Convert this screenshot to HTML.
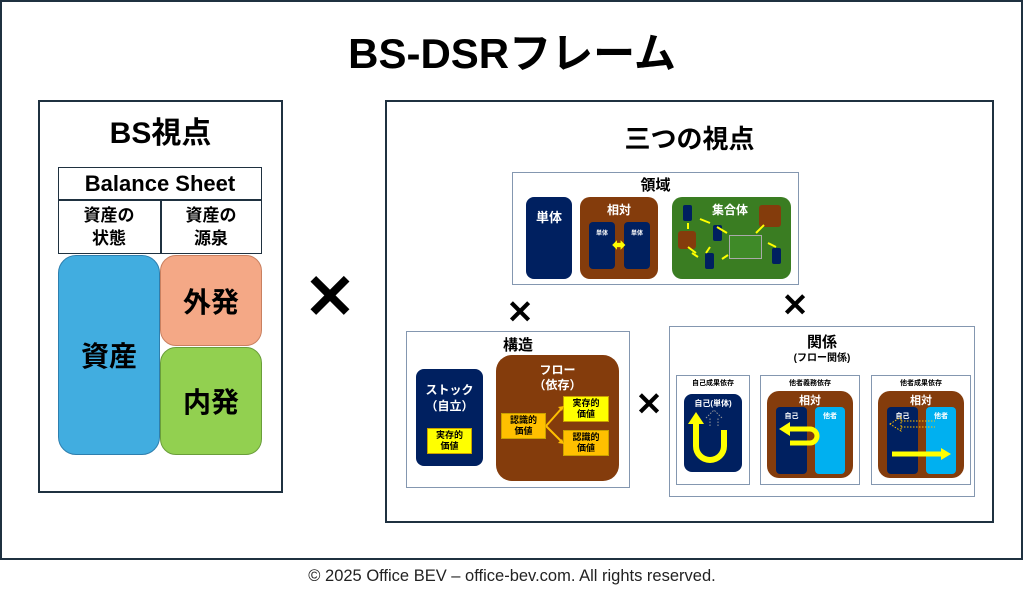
<!DOCTYPE html>
<html><head><meta charset="utf-8"><style>
*{margin:0;padding:0;box-sizing:border-box}
body{width:1024px;height:597px;background:#fff;position:relative;overflow:hidden;font-family:"Liberation Sans","Noto Sans CJK JP",sans-serif;font-weight:bold;color:#000}
div{position:absolute}
.c{display:flex;align-items:center;justify-content:center;text-align:center}
.box{border:1.5px solid #8497b0;background:#fff}
.navy{background:#002060;color:#fff;border-radius:8px}
.brown{background:#843c0c;color:#fff;border-radius:10px}
.y{background:#ffff00;color:#000;border:1px solid #c9a000;font-size:9px;line-height:11px}
.o{background:#ffc000;color:#000;border:1px solid #c9a000;font-size:9px;line-height:11px}
.x{font-size:34px;font-weight:bold;line-height:1}
</style></head><body>
<div style="left:0;top:0;width:1023px;height:560px;border:2px solid #1f3140"></div>
<div class="c" style="left:0;top:24px;width:1024px;height:52px;font-size:42px">BS-DSRフレーム</div>

<div style="left:38px;top:100px;width:245px;height:393px;border:2px solid #1f3140"></div>
<div class="c" style="left:38px;top:110px;width:245px;height:40px;font-size:30px">BS視点</div>
<div style="left:58px;top:167px;width:204px;height:87px;border:1.5px solid #1f3140"></div>
<div style="left:58px;top:199px;width:204px;height:1.5px;background:#1f3140"></div>
<div style="left:160px;top:199px;width:1.5px;height:55px;background:#1f3140"></div>
<div class="c" style="left:58px;top:168px;width:204px;height:31px;font-size:22px">Balance Sheet</div>
<div class="c" style="left:58px;top:201px;width:102px;height:52px;font-size:17px;line-height:23px">資産の<br>状態</div>
<div class="c" style="left:160px;top:201px;width:102px;height:52px;font-size:17px;line-height:23px">資産の<br>源泉</div>
<div class="c" style="left:58px;top:255px;width:102px;height:200px;background:#41ade0;border-radius:18px;border:1px solid #2e7fae;font-size:28px">資産</div>
<div class="c" style="left:160px;top:255px;width:102px;height:91px;background:#f4a886;border-radius:16px;border:1px solid #c98060;font-size:28px">外発</div>
<div class="c" style="left:160px;top:347px;width:102px;height:108px;background:#92d050;border-radius:16px;border:1px solid #6a9e3a;font-size:28px">内発</div>

<div class="c x" style="left:300px;top:268px;width:60px;height:60px;font-size:62px">✕</div>

<div style="left:385px;top:100px;width:609px;height:423px;border:2px solid #1f3140"></div>
<div class="c" style="left:385px;top:120px;width:609px;height:34px;font-size:26px">三つの視点</div>

<div class="box" style="left:512px;top:172px;width:287px;height:113px"></div>
<div class="c" style="left:512px;top:174px;width:287px;height:20px;font-size:15px">領域</div>
<div class="navy c" style="left:526px;top:197px;width:46px;height:82px;align-items:flex-start;padding-top:10px;font-size:13px">単体</div>
<div class="brown" style="left:580px;top:197px;width:78px;height:82px"></div>
<div class="c" style="left:580px;top:201px;width:78px;height:16px;color:#fff;font-size:12px">相対</div>
<div class="navy c" style="left:589px;top:222px;width:26px;height:47px;border-radius:4px;font-size:6px;align-items:flex-start;padding-top:6px">単体</div>
<div class="navy c" style="left:624px;top:222px;width:26px;height:47px;border-radius:4px;font-size:6px;align-items:flex-start;padding-top:6px">単体</div>
<div class="c" style="left:608px;top:238px;width:22px;height:14px;color:#ffff00;font-size:16px">⬌</div>
<div style="left:672px;top:197px;width:119px;height:82px;background:#3a7d22;border-radius:10px"></div>
<div class="c" style="left:700px;top:201px;width:60px;height:16px;color:#fff;font-size:12px">集合体</div>
<div class="navy" style="left:683px;top:205px;width:9px;height:16px;border-radius:2px"></div>
<div class="brown" style="left:678px;top:231px;width:18px;height:18px;border-radius:3px"></div>
<div class="brown" style="left:759px;top:205px;width:22px;height:22px;border-radius:3px"></div>
<div class="navy" style="left:713px;top:225px;width:9px;height:16px;border-radius:2px"></div>
<div class="navy" style="left:705px;top:253px;width:9px;height:16px;border-radius:2px"></div>
<div class="navy" style="left:772px;top:248px;width:9px;height:16px;border-radius:2px"></div>
<div style="left:729px;top:235px;width:33px;height:24px;border:1px solid #aaa;background:#3f8a28"></div>
<svg style="position:absolute;left:672px;top:197px" width="119" height="82"><g stroke="#ffff00" stroke-width="2"><path d="M16 26 V32 M28 22 L38 26 M45 30 L55 36 M38 50 L34 56 M26 60 L20 56 M50 62 L56 58 M92 28 L84 36 M120 32 V40 M96 46 L104 50 M16 50 L24 56"/></g></svg>
<div class="box" style="left:406px;top:331px;width:224px;height:157px"></div>
<div class="c" style="left:406px;top:334px;width:224px;height:20px;font-size:15px">構造</div>
<div class="navy" style="left:416px;top:369px;width:67px;height:97px"></div>
<div class="c" style="left:416px;top:380px;width:67px;height:36px;color:#fff;font-size:12px;line-height:16px">ストック<br>（自立）</div>
<div class="y c" style="left:427px;top:428px;width:45px;height:26px">実存的<br>価値</div>
<div class="brown" style="left:496px;top:355px;width:123px;height:126px;border-radius:16px"></div>
<div class="c" style="left:496px;top:362px;width:123px;height:32px;color:#fff;font-size:12px;line-height:15px">フロー<br>（依存）</div>
<div class="o c" style="left:501px;top:413px;width:45px;height:26px">認識的<br>価値</div>
<div class="y c" style="left:563px;top:396px;width:46px;height:26px">実存的<br>価値</div>
<div class="o c" style="left:563px;top:430px;width:46px;height:26px">認識的<br>価値</div>
<svg style="position:absolute;left:540px;top:400px" width="30" height="50"><path d="M6 26 L22 8 M6 26 L22 42" stroke="#ffc000" stroke-width="2"/><path d="M24 6 l-6 1 l4 4z M24 44 l-6 -1 l4 -4z" fill="#ffc000"/></svg>

<div class="c x" style="left:505px;top:297px;width:30px;height:30px;font-size:32px">✕</div>
<div class="c x" style="left:780px;top:290px;width:30px;height:30px;font-size:32px">✕</div>
<div class="c x" style="left:634px;top:389px;width:30px;height:30px;font-size:32px">✕</div>

<div class="box" style="left:669px;top:326px;width:306px;height:171px"></div>
<div class="c" style="left:669px;top:331px;width:306px;height:20px;font-size:15px">関係</div>
<div class="c" style="left:669px;top:349px;width:306px;height:14px;font-size:10px">(フロー関係)</div>
<div class="box" style="left:676px;top:375px;width:74px;height:110px"></div>
<div class="c" style="left:676px;top:377px;width:74px;height:12px;font-size:7px">自己成果依存</div>
<div class="navy" style="left:684px;top:394px;width:58px;height:78px"></div>
<div class="c" style="left:684px;top:397px;width:58px;height:12px;color:#fff;font-size:8px">自己(単体)</div>
<svg style="position:absolute;left:684px;top:408px" width="58" height="62"><path d="M12 14 V38 A14 14 0 0 0 40 38 V22" fill="none" stroke="#ffff00" stroke-width="6"/><path d="M4 16 L12 4 L20 16z" fill="#ffff00"/><path d="M26 18 V10 M34 18 V10 M22 10 L30 2 L38 10" stroke="#999" stroke-dasharray="1.5 1.5" fill="none"/></svg>
<div class="box" style="left:760px;top:375px;width:100px;height:110px"></div>
<div class="c" style="left:760px;top:377px;width:100px;height:12px;font-size:7px">他者義務依存</div>
<div class="brown" style="left:767px;top:391px;width:86px;height:87px;border-radius:12px"></div>
<div class="c" style="left:767px;top:393px;width:86px;height:14px;color:#fff;font-size:11px">相対</div>
<div class="navy c" style="left:776px;top:407px;width:31px;height:67px;border-radius:4px;font-size:7px;align-items:flex-start;padding-top:4px">自己</div>
<div style="left:815px;top:407px;width:30px;height:67px;border-radius:4px;background:#00b0f0;color:#fff;font-size:7px;text-align:center;padding-top:4px">他者</div>
<svg style="position:absolute;left:776px;top:420px" width="70" height="40"><path d="M14 9 H34 A7 7 0 0 1 34 23 H14" fill="none" stroke="#ffff00" stroke-width="5"/><path d="M3 9 L14 2 L14 16z" fill="#ffff00"/></svg>
<div class="box" style="left:871px;top:375px;width:100px;height:110px"></div>
<div class="c" style="left:871px;top:377px;width:100px;height:12px;font-size:7px">他者成果依存</div>
<div class="brown" style="left:878px;top:391px;width:86px;height:87px;border-radius:12px"></div>
<div class="c" style="left:878px;top:393px;width:86px;height:14px;color:#fff;font-size:11px">相対</div>
<div class="navy c" style="left:887px;top:407px;width:31px;height:67px;border-radius:4px;font-size:7px;align-items:flex-start;padding-top:4px">自己</div>
<div style="left:926px;top:407px;width:30px;height:67px;border-radius:4px;background:#00b0f0;color:#fff;font-size:7px;text-align:center;padding-top:4px">他者</div>
<svg style="position:absolute;left:887px;top:415px" width="70" height="50"><path d="M14 6 H48 M14 12 H48 M3 9 L14 2 L14 16z" fill="none" stroke="#ffc000" stroke-dasharray="1.5 1.5"/><path d="M5 39 H56" stroke="#ffff00" stroke-width="5"/><path d="M54 33 L64 39 L54 45z" fill="#ffff00"/></svg>

<div class="c" style="left:0;top:565px;width:1024px;height:22px;font-size:16.5px;font-weight:normal;color:#222">© 2025 Office BEV – office-bev.com. All rights reserved.</div>
</body></html>
